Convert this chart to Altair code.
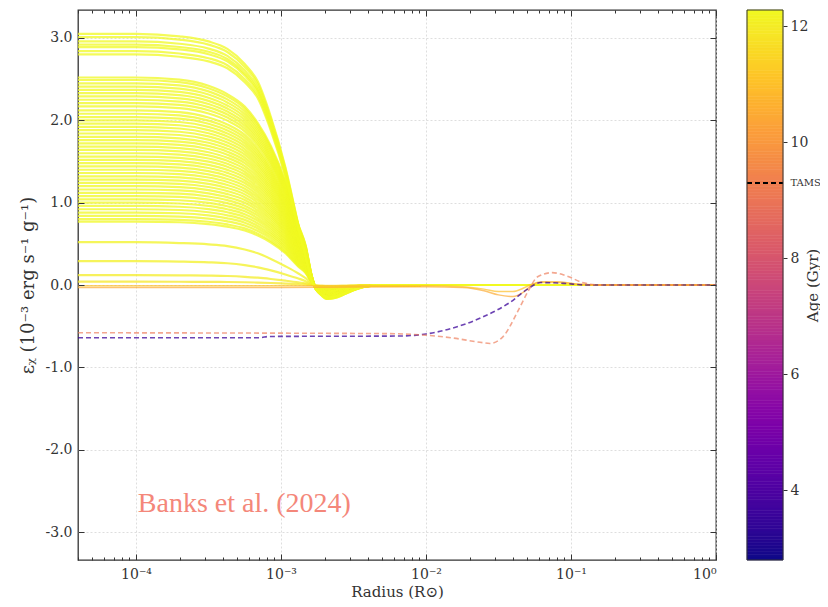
import altair as alt
import numpy as np
import pandas as pd

# ---------------- data ----------------
# sample radii (log10 R/Rsun) for the yellow family of late-age profiles
LOGR_Y = [-4.4, -4.0, -3.7, -3.5, -3.37, -3.25, -3.16, -3.07, -2.97, -2.88, -2.83, -2.79,
          -2.76, -2.72, -2.68, -2.62, -2.55, -2.48, -2.41, -2.3, -2.0, -1.4, -1.25, -1.15,
          -1.0, -0.8, 0.0]
SHAPE_TOP = [1.00, 1.00, 0.99, 0.97, 0.94, 0.88, 0.81, 0.67, 0.47, 0.24, 0.12, 0.02,
             0, 0, 0, 0, 0, 0, 0, 0, 0, 0, 0, 0, 0, 0, 0]
SHAPE_BAND = [1.00, 1.00, 0.99, 0.96, 0.92, 0.86, 0.78, 0.67, 0.50, 0.29, 0.19, 0.05,
              0, 0, 0, 0, 0, 0, 0, 0, 0, 0, 0, 0, 0, 0, 0]
SHAPE_LOW = [1.00, 1.00, 0.98, 0.95, 0.91, 0.83, 0.74, 0.61, 0.44, 0.27, 0.16, 0.05,
             0, 0, 0, 0, 0, 0, 0, 0, 0, 0, 0, 0, 0, 0, 0]
# the small negative dip just outside 1.7e-3 Rsun
DIP = [0, 0, 0, 0, 0, 0, 0, 0, 0, 0, 0, 0,
       0.30, 0.75, 1.00, 0.90, 0.60, 0.30, 0.10, 0.02, 0, 0, 0, 0, 0, 0, 0]

TOP_PLATEAU = [3.05, 3.01, 2.96, 2.92, 2.89, 2.84, 2.80]
TOP_DIP = [-0.17, -0.17, -0.16, -0.16, -0.16, -0.15, -0.15]
TOP_AGE = [12.28, 12.28, 12.28, 12.28, 12.28, 12.28, 12.28]

BAND_PLATEAU = [2.52, 2.49, 2.45, 2.41, 2.37, 2.33, 2.29, 2.25, 2.21, 2.17, 2.12, 2.08,
                2.04, 2.00, 1.96, 1.92, 1.88, 1.84, 1.80, 1.76, 1.72, 1.68, 1.64, 1.60,
                1.56, 1.52, 1.48, 1.44, 1.40, 1.36, 1.32, 1.28, 1.24, 1.20, 1.16, 1.12,
                1.08, 1.04, 1.00, 0.96, 0.92, 0.88, 0.84, 0.80, 0.77]
BAND_DIP = [-0.15, -0.15, -0.14, -0.14, -0.14, -0.13, -0.13, -0.13, -0.13, -0.12, -0.12, -0.12,
            -0.12, -0.11, -0.11, -0.11, -0.11, -0.10, -0.10, -0.10, -0.10, -0.09, -0.09, -0.09,
            -0.09, -0.08, -0.08, -0.08, -0.08, -0.07, -0.07, -0.07, -0.07, -0.06, -0.06, -0.06,
            -0.06, -0.05, -0.05, -0.05, -0.05, -0.05, -0.04, -0.04, -0.04]
BAND_AGE = [12.26] * 45

LOW_PLATEAU = [0.52, 0.29, 0.12, 0.04]
LOW_DIP = [-0.04, -0.03, -0.02, -0.01]
LOW_AGE = [12.15, 12.1, 12.0, 11.9]

# orange (post-TAMS, ~10.5-11 Gyr) solid lines
LOGR_O = [-4.4, -3.0, -2.0, -1.75, -1.6, -1.5, -1.4, -1.33, -1.27, -1.2, -1.1, -0.95, -0.8, 0.0]
ORANGE_A = [-0.03, -0.03, -0.02, -0.03, -0.07, -0.12, -0.14, -0.09, 0.0, 0.04, 0.04, 0.01, 0.0, 0.0]
ORANGE_B = [-0.01, -0.01, -0.01, -0.02, -0.05, -0.08, -0.08, -0.04, 0.01, 0.03, 0.03, 0.01, 0.0, 0.0]
ORANGE_AGES = [10.5, 11.0]

# dashed (pre-TAMS) lines
LOGR_B = [-4.4, -3.15, -3.08, -2.2, -2.0, -1.83, -1.61, -1.42, -1.30, -1.21, -1.05, -0.9, 0.0]
BLUE = [-0.64, -0.64, -0.625, -0.62, -0.595, -0.53, -0.39, -0.21, -0.05, 0.03, 0.02, 0.0, 0.0]
BLUE_AGE = 3.6
LOGR_P = [-4.4, -2.3, -2.0, -1.83, -1.61, -1.56, -1.47, -1.37, -1.30, -1.23, -1.13, -1.03,
          -0.92, -0.8, 0.0]
PINK = [-0.58, -0.59, -0.61, -0.64, -0.70, -0.71, -0.63, -0.33, -0.09, 0.10, 0.15, 0.11,
        0.03, 0.0, 0.0]
PINK_AGE = 9.1

AGE_MIN, AGE_MAX = 2.8, 12.28
TAMS_AGE = 9.3
CB_TICKS = [4, 6, 8, 9.3, 10, 12]

X_TICKS = [1e-4, 1e-3, 1e-2, 1e-1, 1.0]
Y_TICKS = [-3, -2, -1, 0, 1, 2, 3]

ANNOT = pd.DataFrame({"r": [1.03e-4], "eps": [-2.66], "txt": ["Banks et al. (2024)"]})

# ---------------- build tables ----------------
rows = []


def add_family(prefix, plateaus, dips, ages, shape):
    for i, (p, d, a) in enumerate(zip(plateaus, dips, ages)):
        for lr, s, dp in zip(LOGR_Y, shape, DIP):
            rows.append({"id": f"{prefix}{i:02d}", "r": 10 ** lr, "eps": p * s + d * dp, "age": a})


add_family("b", BAND_PLATEAU, BAND_DIP, BAND_AGE, SHAPE_BAND)
add_family("l", LOW_PLATEAU, LOW_DIP, LOW_AGE, SHAPE_LOW)
add_family("t", TOP_PLATEAU, TOP_DIP, TOP_AGE, SHAPE_TOP)
yellow = pd.DataFrame(rows)

orange = pd.DataFrame(
    [{"id": "oa", "r": 10 ** lr, "eps": v, "age": ORANGE_AGES[0]} for lr, v in zip(LOGR_O, ORANGE_A)]
    + [{"id": "ob", "r": 10 ** lr, "eps": v, "age": ORANGE_AGES[1]} for lr, v in zip(LOGR_O, ORANGE_B)]
)
blue = pd.DataFrame({"r": [10 ** v for v in LOGR_B], "eps": BLUE, "age": BLUE_AGE})
pink = pd.DataFrame({"r": [10 ** v for v in LOGR_P], "eps": PINK, "age": PINK_AGE})

# colour-bar swatch (a rendering of the colour scale)
edges = np.linspace(AGE_MIN, AGE_MAX, 191)
cb = pd.DataFrame({"a0": edges[:-1], "a1": edges[1:], "am": (edges[:-1] + edges[1:]) / 2})

# ---------------- layout constants ----------------
W, H = 638, 550
CB_X0, CB_X1 = 669, 705
SERIF = "DejaVu Serif"
INK = "#333333"

XS = alt.Scale(type="log", domain=[10 ** -4.4, 1.0], nice=False)
YS = alt.Scale(domain=[-3.34, 3.34], nice=False, zero=False)
AS = alt.Scale(domain=[AGE_MIN, AGE_MAX], nice=False, zero=False)
CS = alt.Scale(scheme="plasma", domain=[AGE_MIN, AGE_MAX])

minor_x = [k * 10.0 ** e for e in range(-5, 0) for k in range(2, 10) if 10 ** -4.4 < k * 10.0 ** e < 1]

x_label_expr = "['10\u207b\u2074','10\u207b\u00b3','10\u207b\u00b2','10\u207b\u00b9','10\u2070'][round(log(datum.value)/LN10)+4]"

ax_x_main = alt.Axis(orient="bottom", values=X_TICKS, labelExpr=x_label_expr, ticks=False, domain=False,
                     grid=True, gridDash=[2, 2], gridColor="#d6d6d6", gridWidth=0.8,
                     labelFont=SERIF, labelFontSize=14, labelColor=INK, labelPadding=7,
                     title="Radius (R\u2299)", titleFont=SERIF, titleFontSize=15, titleFontWeight="normal",
                     titleColor=INK, titlePadding=3)
ax_y_main = alt.Axis(orient="left", values=Y_TICKS,
                     labelExpr="replace(format(datum.value, '.1f'), '\u2212', '-')",
                     ticks=False, domain=False, grid=True, gridDash=[2, 2], gridColor="#d6d6d6", gridWidth=0.8,
                     labelFont=SERIF, labelFontSize=14, labelColor=INK, labelPadding=6,
                     title="\u03b5\u1d6a (10\u207b\u00b3 erg s\u207b\u00b9 g\u207b\u00b9)", titleFont=SERIF,
                     titleFontSize=18, titleFontWeight="normal", titleColor=INK, titlePadding=8)


def tick_axis(orient, offset, values, size):
    return alt.Axis(orient=orient, offset=offset, values=values, labels=False, domain=False, grid=False,
                    ticks=True, tickSize=size, tickColor=INK, tickWidth=1, title=None, zindex=2)


x = lambda ax: alt.X("r:Q", scale=XS, axis=ax)
y = lambda ax: alt.Y("eps:Q", scale=YS, axis=ax)
col = alt.Color("age:Q", scale=CS, legend=None)

l_yellow = alt.Chart(yellow).mark_line(strokeWidth=2.2, opacity=0.75, interpolate="monotone").encode(
    x=x(ax_x_main), y=y(ax_y_main), color=col, detail="id:N")

l_orange = alt.Chart(orange).mark_line(strokeWidth=1.5, opacity=0.7, interpolate="monotone").encode(
    x=x(tick_axis("top", -H, X_TICKS, 6)), y=y(tick_axis("right", -W, Y_TICKS, 6)), color=col, detail="id:N")

l_blue = alt.Chart(blue).mark_line(strokeWidth=1.6, opacity=0.75, strokeDash=[5, 3], interpolate="monotone").encode(
    x=x(tick_axis("bottom", -H, X_TICKS, 6)), y=y(tick_axis("left", -W, Y_TICKS, 6)), color=col)

l_pink = alt.Chart(pink).mark_line(strokeWidth=1.6, opacity=0.65, strokeDash=[5, 3], interpolate="monotone").encode(
    x=x(tick_axis("top", -H, minor_x, 3)), y=y(None), color=col)

l_text = alt.Chart(ANNOT).mark_text(align="left", baseline="middle", font="Liberation Serif", fontSize=28,
                                    color="#f4877a").encode(
    x=x(tick_axis("bottom", -H, minor_x, 3)), y=y(None), text="txt:N")

cb_axis = alt.Axis(orient="right", offset=CB_X1 - W, values=CB_TICKS,
                   labelExpr="abs(datum.value - 9.3) < 0.01 ? 'TAMS' : format(datum.value, 'd')",
                   labelFontSize={"condition": {"test": "abs(datum.value - 9.3) < 0.01", "value": 10}, "value": 14},
                   tickOpacity={"condition": {"test": "abs(datum.value - 9.3) < 0.01", "value": 0}, "value": 1},
                   labelFont=SERIF, labelColor=INK, labelPadding=3, tickSize=4, tickColor=INK,
                   domain=False, grid=False,
                   title="Age (Gyr)", titleFont=SERIF, titleFontSize=15, titleFontWeight="normal",
                   titleColor=INK, titleAngle=270, titleAlign="center", titleBaseline="middle",
                   titleX=29, titleY=275)

l_cb = alt.Chart(cb).mark_rect(strokeWidth=0.6).encode(
    x=alt.value(CB_X0), x2=alt.value(CB_X1),
    y=alt.Y("a0:Q", scale=AS, axis=cb_axis), y2="a1:Q",
    color=alt.Color("am:Q", scale=CS, legend=None),
    stroke=alt.Stroke("am:Q", scale=CS, legend=None))

l_tams = alt.Chart(pd.DataFrame({"age": [TAMS_AGE]})).mark_rule(color="black", strokeWidth=2, strokeDash=[5, 3]).encode(
    x=alt.value(CB_X0), x2=alt.value(CB_X1), y=alt.Y("age:Q", scale=AS, axis=None))

l_cbframe = alt.Chart(pd.DataFrame({"k": [0]})).mark_rect(fillOpacity=0, stroke=INK, strokeWidth=1).encode(
    x=alt.value(CB_X0), x2=alt.value(CB_X1), y=alt.value(0), y2=alt.value(H))

chart = alt.layer(l_yellow, l_orange, l_blue, l_pink, l_text, l_cb, l_tams, l_cbframe).resolve_scale(
    y="independent").resolve_axis(x="independent", y="independent").properties(
    width=W, height=H,
    autosize=alt.AutoSizeParams(type="none"),
    padding={"left": 70, "top": 2, "right": 104, "bottom": 39},
).configure_view(stroke=INK, strokeWidth=1.3)

chart.save("out.html", embed_options={"renderer": "svg", "actions": False})
